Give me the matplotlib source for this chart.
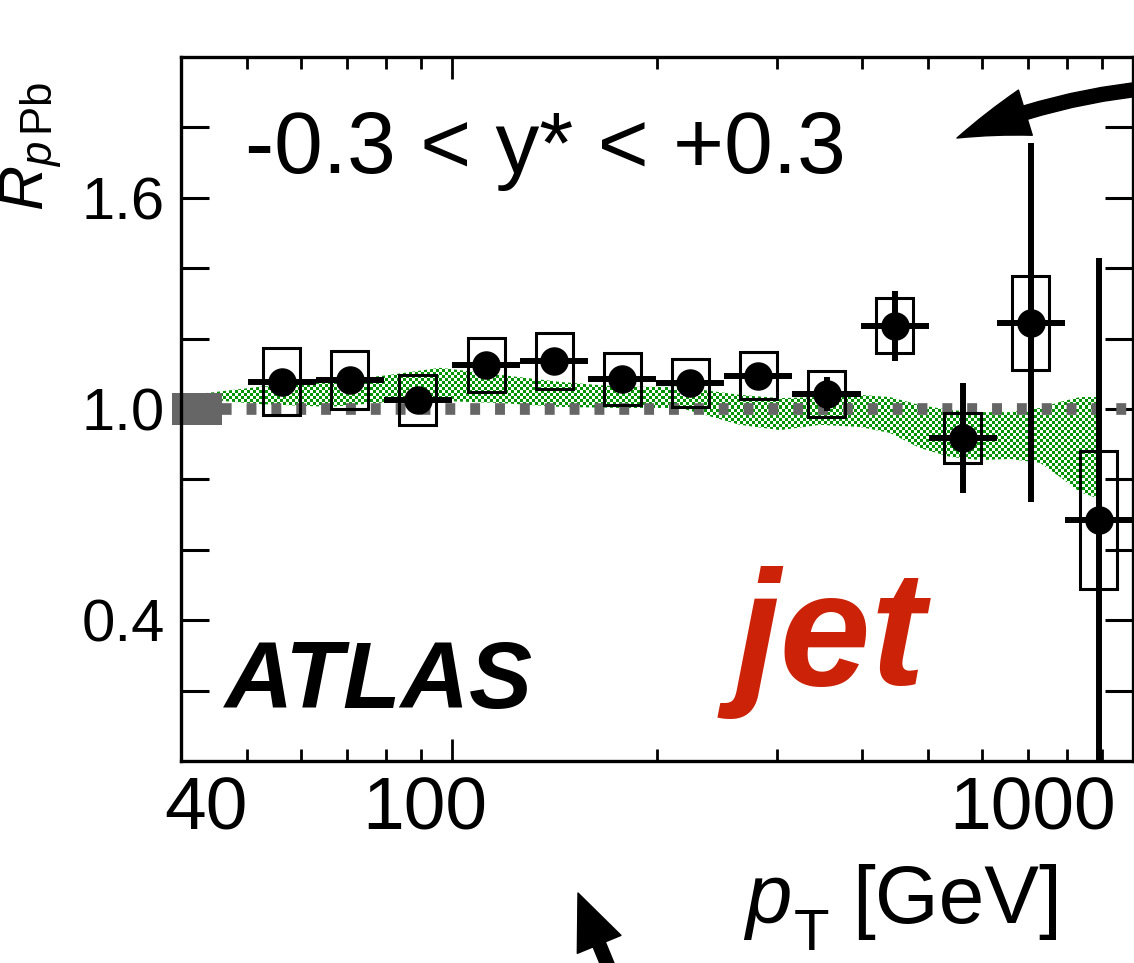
import numpy as np
import matplotlib
matplotlib.use("Agg")
import matplotlib.pyplot as plt
import matplotlib.transforms as mtransforms
from matplotlib.patches import Rectangle, Polygon, FancyArrowPatch, ArrowStyle
from matplotlib.ticker import FixedLocator, NullFormatter, NullLocator
from matplotlib.colors import to_rgba

plt.rcParams["font.family"] = ["Liberation Sans", "DejaVu Sans"]
plt.rcParams["mathtext.fontset"] = "custom"
plt.rcParams["mathtext.rm"] = "Liberation Sans"
plt.rcParams["mathtext.it"] = "Liberation Sans:italic"
plt.rcParams["mathtext.bf"] = "Liberation Sans:bold"

# ---- jet R_pPb measurement, -0.3 < y* < +0.3 ----
bin_lo = [50.1, 63.1, 79.4, 100.0, 125.9, 158.5, 199.5, 251.2, 316.2, 398.1, 501.2, 631.0, 794.3]
bin_hi = [63.1, 79.4, 100.0, 125.9, 158.5, 199.5, 251.2, 316.2, 398.1, 501.2, 631.0, 794.3, 1000.0]
pt_center = [56.2, 70.8, 89.1, 112.2, 141.3, 177.8, 223.9, 281.8, 354.8, 446.7, 562.3, 707.9, 891.3]
rppb = [1.077, 1.082, 1.026, 1.125, 1.136, 1.085, 1.074, 1.094, 1.043, 1.236, 0.918, 1.245, 0.685]
stat_err = [0.02, 0.02, 0.02, 0.02, 0.02, 0.02, 0.02, 0.025, 0.048, 0.10, 0.156, 0.51, 0.745]
sys_err = [0.095, 0.083, 0.072, 0.077, 0.080, 0.075, 0.068, 0.067, 0.065, 0.078, 0.071, 0.134, 0.195]

# ---- theory band ----
band_pt = [43.4, 52.2, 66.2, 81.1, 96.0, 117.6, 144.1, 176.5, 216.2, 264.8, 303.1,
           347.1, 397.3, 439.6, 486.8, 538.8, 596.4, 660.0, 730.4, 781.2, 836.0, 885.2]
band_hi = [1.045, 1.063, 1.077, 1.097, 1.117, 1.097, 1.077, 1.063, 1.063, 1.040, 1.031,
           1.034, 1.040, 1.034, 1.011, 0.997, 0.991, 0.991, 1.003, 1.020, 1.034, 1.034]
band_lo = [1.027, 1.014, 1.006, 1.020, 1.023, 1.017, 1.006, 1.003, 1.003, 0.955, 0.940,
           0.955, 0.949, 0.932, 0.889, 0.864, 0.855, 0.858, 0.847, 0.807, 0.764, 0.747]

# ---- normalisation uncertainty ----
norm_unc = 0.045

# ---- axis ticks ----
y_ticks = [0.2, 0.4, 0.6, 0.8, 1.0, 1.2, 1.4, 1.6, 1.8]
y_ticklabels = ["", "0.4", "", "", "1.0", "", "", "1.6", ""]
x_major = [100]
x_minor = [50, 60, 70, 80, 90, 200, 300, 400, 500, 600, 700, 800, 900]
x_label_vals = [40, 100, 1000]
x_label_txt = ["40", "100", "1000"]
x_label_dx = [25, -27, -100]   # pixel shifts of the tick label text

W, H, DPI = 1134, 963, 100
fig = plt.figure(figsize=(W / DPI, H / DPI), dpi=DPI)
ax = fig.add_axes([181 / W, 1 - 761 / H, (1133 - 181) / W, (761 - 57) / H])
ax.set_xscale("log")
ax.set_autoscale_on(False)
ax.set_xlim(40, 1000)
ax.set_ylim(0, 2.0)


def fpx(x, y):
    return (x / W, 1 - y / H)


# checkered green band (pattern clipped to the band outline)
cell = 3
nx, ny = 952 // cell, 704 // cell
ii, jj = np.indices((ny, nx))
checker = np.zeros((ny, nx, 4))
checker[(ii + jj) % 2 == 0] = to_rgba("#009400")
im = ax.imshow(checker, extent=(0, 1, 0, 1), transform=ax.transAxes,
               interpolation="nearest", aspect="auto", origin="lower", zorder=1)
band_poly = Polygon(np.column_stack([band_pt + band_pt[::-1], band_hi + band_lo[::-1]]),
                    closed=True, transform=ax.transData, facecolor="none",
                    edgecolor="none")
ax.add_patch(band_poly)
im.set_clip_path(band_poly)
ax.set_xlim(40, 1000)
ax.set_ylim(0, 2.0)

# unity reference line and normalisation box
ax.plot([38.8, 1000], [1.0, 1.0], color="#666666", lw=8.4,
        linestyle=(0, (0.85, 1.28)), dash_capstyle="butt", clip_on=False, zorder=2)
ax.add_patch(Rectangle((38.8, 1.0 - norm_unc), 46.0 - 38.8, 2 * norm_unc,
                       facecolor="#666666", edgecolor="none", clip_on=False, zorder=2.5))

# systematic boxes
box_half = 10 ** 0.0272
for c, r, s in zip(pt_center, rppb, sys_err):
    ax.add_patch(Rectangle((c / box_half, r - s), c * box_half - c / box_half, 2 * s,
                           facecolor="none", edgecolor="black", lw=2.2, zorder=3))

# data points with statistical errors
xerr = [np.array(pt_center) - np.array(bin_lo), np.array(bin_hi) - np.array(pt_center)]
ax.errorbar(pt_center, rppb, yerr=stat_err, xerr=xerr, fmt="o", color="black",
            ms=19.5, elinewidth=4.3, capsize=0, zorder=4)

# ticks
ax.xaxis.set_major_locator(FixedLocator(x_major))
ax.xaxis.set_minor_locator(FixedLocator(x_minor))
ax.xaxis.set_major_formatter(NullFormatter())
ax.xaxis.set_minor_formatter(NullFormatter())
ax.tick_params(axis="x", which="major", direction="in", length=16, width=2,
               top=True, bottom=True)
ax.tick_params(axis="x", which="minor", direction="in", length=8.6, width=2,
               top=True, bottom=True)
ax.set_yticks(y_ticks, y_ticklabels)
ax.yaxis.set_minor_locator(NullLocator())
ax.tick_params(axis="y", direction="in", length=20, width=2.2, left=True,
               right=True, labelsize=43, pad=11.5)
for sp in ax.spines.values():
    sp.set_linewidth(2.4)

xt = mtransforms.blended_transform_factory(ax.transData, ax.transAxes)
for val, lab, dx in zip(x_label_vals, x_label_txt, x_label_dx):
    tr = xt + mtransforms.ScaledTranslation(dx / DPI, -14 / DPI, fig.dpi_scale_trans)
    ax.text(val, 0, lab, transform=tr, ha="center", va="top", fontsize=54,
            clip_on=False)

# x-axis title: italic p, lowered subscript T, unit
fig.text(745 / W, 1 - 923 / H, "p", fontsize=60, fontstyle="italic",
         ha="left", va="baseline")
fig.text(794 / W, 1 - 962 / H, "T", fontsize=42, ha="left", va="bottom")
fig.text(1062 / W, 1 - 923 / H, "[GeV]", fontsize=59, ha="right", va="baseline")

# y-axis title
fig.text(31 / W, 1 - 82 / H, r"$R_{p\,\mathrm{Pb}}$", fontsize=45, rotation=90,
         ha="center", va="top")

# labels
fig.text(245 / W, 1 - 173 / H, "-0.3 < y* < +0.3", fontsize=63, ha="left",
         va="baseline")
fig.text(225 / W, 1 - 708 / H, "ATLAS", fontsize=68, fontweight="bold",
         fontstyle="italic", ha="left", va="baseline")
fig.text(735 / W, 1 - 685 / H, "jet", fontsize=118, fontweight="bold",
         fontstyle="italic", color="#cc2208", ha="left", va="baseline")

# arrows
fig.patches.append(FancyArrowPatch(
    fpx(1150, 88), fpx(957, 138), transform=fig.transFigure,
    connectionstyle="arc3,rad=0.08",
    arrowstyle=ArrowStyle("simple", head_length=1.05, head_width=0.68, tail_width=0.2),
    mutation_scale=50, color="black", shrinkA=0, shrinkB=0))
fig.patches.append(FancyArrowPatch(
    fpx(620, 995), fpx(578, 893), transform=fig.transFigure,
    arrowstyle=ArrowStyle("simple", head_length=0.8, head_width=0.68, tail_width=0.19),
    mutation_scale=50, color="black", shrinkA=0, shrinkB=0))

fig.savefig("out.png", dpi=DPI)
